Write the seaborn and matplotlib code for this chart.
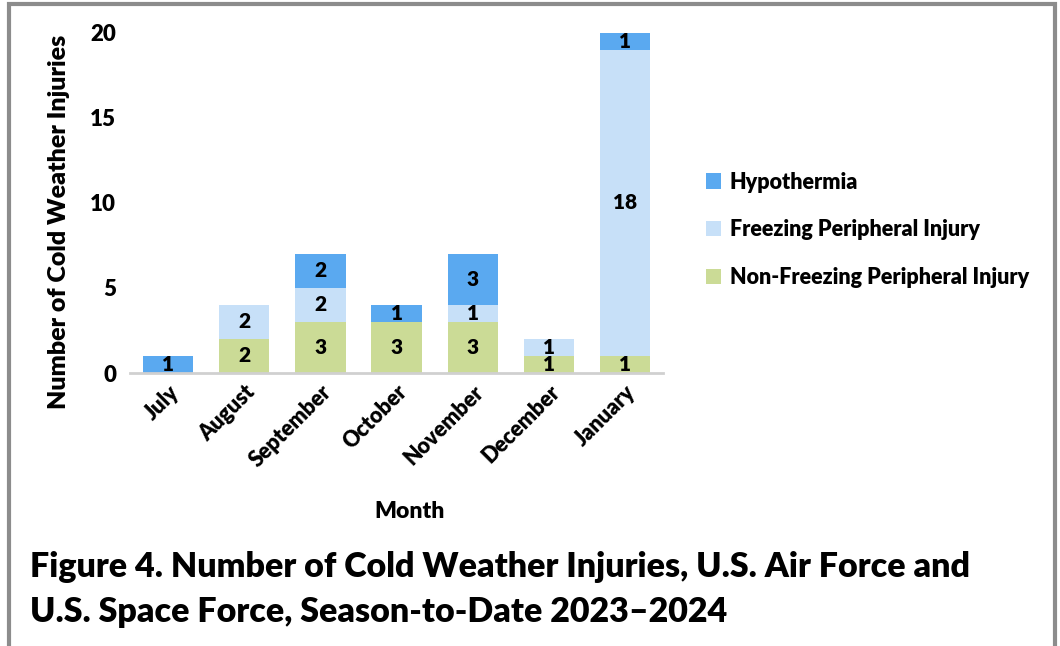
import numpy as np
import matplotlib
matplotlib.use("Agg")
import matplotlib.pyplot as plt
from matplotlib.patches import Rectangle
import seaborn as sns

months = ["July", "August", "September", "October", "November", "December", "January"]
non_freezing = [0, 2, 3, 3, 3, 1, 1]
freezing = [0, 2, 2, 0, 1, 1, 18]
hypothermia = [1, 0, 2, 1, 3, 0, 1]

series_names = ["Non-Freezing Peripheral Injury", "Freezing Peripheral Injury", "Hypothermia"]
series_colors = ["#CBDB96", "#C7E0F8", "#5AA9F0"]

sns.set_style("white")
plt.rcParams["font.family"] = ["Lato", "DejaVu Sans"]
plt.rcParams["font.weight"] = "heavy"
plt.rcParams["text.color"] = "black"
plt.rcParams["xtick.color"] = "black"
plt.rcParams["ytick.color"] = "black"
plt.rcParams["axes.labelcolor"] = "black"
W = "heavy"

fig = plt.figure(figsize=(10.6, 6.46), dpi=100)
ax = fig.add_axes([0.1226, 0.4226, 0.503, 0.5264])

bottom = np.zeros(len(months))
for name, vals, col in zip(series_names, [non_freezing, freezing, hypothermia], series_colors):
    sns.barplot(x=months, y=vals, bottom=bottom, color=col, width=0.66,
                label=name, ax=ax, saturation=1, edgecolor="none")
    bottom = bottom + np.array(vals)

for cont, vals in zip(ax.containers, [non_freezing, freezing, hypothermia]):
    labels = [str(v) if v > 0 else "" for v in vals]
    ax.bar_label(cont, labels=labels, label_type="center", fontsize=15,
                 fontweight=W, color="black")

ax.set_ylim(0, 20)
ax.set_xlim(-0.5, 6.5)
ax.set_yticks([0, 5, 10, 15, 20])
ax.tick_params(axis="y", labelsize=16, length=0, pad=10)
ax.tick_params(axis="x", labelsize=15.5, length=0, pad=6)
for lab in ax.get_xticklabels():
    lab.set_rotation(45)
    lab.set_ha("right")
    lab.set_rotation_mode("anchor")
    lab.set_fontweight(W)
for lab in ax.get_yticklabels():
    lab.set_fontweight(W)

for side in ["top", "right", "left"]:
    ax.spines[side].set_visible(False)
ax.spines["bottom"].set_color("#D0D0D0")
ax.spines["bottom"].set_linewidth(2)

ax.set_ylabel("Number of Cold Weather Injuries", fontsize=18, fontweight=W)
ax.set_xlabel("Month", fontsize=16.5, fontweight=W)
ax.xaxis.set_label_coords(0.525, -0.375)
ax.yaxis.set_label_coords(-0.112, 0.444)

handles, labels = ax.get_legend_handles_labels()
order = [2, 1, 0]
fig.legend([handles[i] for i in order], [labels[i] for i in order],
           loc="center left", bbox_to_anchor=(0.648, 0.644), frameon=False,
           handlelength=0.7, handleheight=0.7, handletextpad=0.4,
           labelspacing=1.25, prop={"weight": W, "size": 15.5})
if ax.get_legend():
    ax.get_legend().remove()

fig.text(0.028, 1 - 577 / 646, "Figure 4. Number of Cold Weather Injuries, U.S. Air Force and",
         fontsize=24.5, fontweight=W, va="baseline")
fig.text(0.028, 1 - 622 / 646, "U.S. Space Force, Season-to-Date 2023\u20132024",
         fontsize=24.5, fontweight=W, va="baseline")

fig.patches.append(Rectangle((0.0085, -0.05), 0.987, 1.044, transform=fig.transFigure,
                             fill=False, edgecolor="#8C8C8C", linewidth=3))

fig.savefig("out.png", dpi=100)
